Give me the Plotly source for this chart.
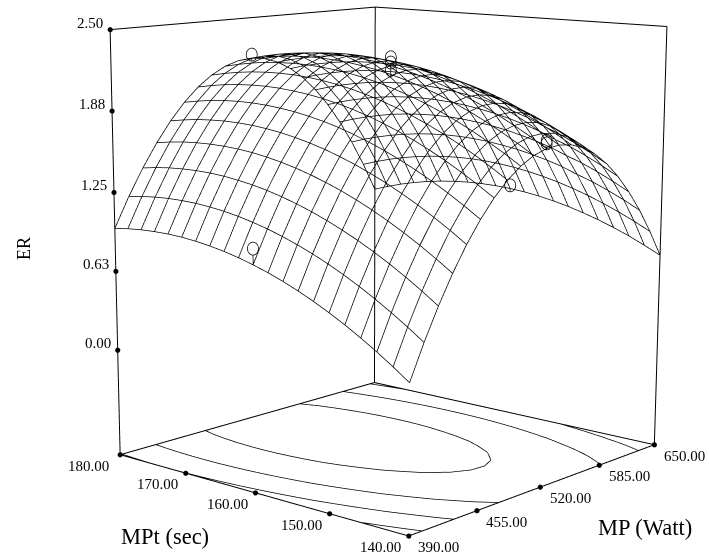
import numpy as np
import plotly.graph_objects as go

# ---- data ----
mp = [390, 403, 416, 429, 442, 455, 468, 481, 494, 507, 520, 533, 546, 559, 572, 585, 598, 611, 624, 637, 650]
mpt = [140, 142, 144, 146, 148, 150, 152, 154, 156, 158, 160, 162, 164, 166, 168, 170, 172, 174, 176, 178, 180]
er_140 = [.253,.510,.742,.950,1.133,1.291,1.425,1.534,1.618,1.678,1.712,1.722,1.708,1.669,1.605,1.516,1.402,1.264,1.102,.914,.702]
er_142 = [.340,.596,.827,1.033,1.215,1.372,1.504,1.612,1.695,1.753,1.787,1.795,1.780,1.739,1.674,1.584,1.469,1.330,1.166,.977,.763]
er_144 = [.422,.676,.906,1.111,1.291,1.447,1.578,1.685,1.766,1.823,1.855,1.863,1.846,1.804,1.737,1.646,1.530,1.390,1.224,1.034,.820]
er_146 = [.498,.751,.980,1.183,1.363,1.517,1.647,1.752,1.832,1.888,1.919,1.925,1.907,1.864,1.796,1.703,1.586,1.444,1.277,1.086,.870]
er_148 = [.569,.821,1.048,1.250,1.428,1.581,1.710,1.814,1.893,1.947,1.977,1.982,1.962,1.913,1.843,1.750,1.631,1.488,1.320,1.133,.915]
er_150 = [.634,.885,1.111,1.312,1.489,1.640,1.768,1.870,1.948,2.001,2.030,2.033,2.012,1.967,1.896,1.801,1.681,1.537,1.368,1.174,.955]
er_152 = [.694,.944,1.168,1.368,1.543,1.694,1.820,1.921,1.998,2.050,2.077,2.079,2.057,2.010,1.938,1.842,1.721,1.575,1.405,1.210,.990]
er_154 = [.749,.997,1.220,1.419,1.593,1.742,1.867,1.967,2.042,2.093,2.119,2.120,2.096,2.048,1.975,1.877,1.755,1.608,1.436,1.240,1.019]
er_156 = [.798,1.045,1.267,1.464,1.637,1.785,1.909,2.007,2.081,2.130,2.155,2.155,2.130,2.081,2.006,1.908,1.784,1.636,1.463,1.265,1.043]
er_158 = [.842,1.087,1.308,1.504,1.676,1.823,1.945,2.042,2.115,2.163,2.186,2.185,2.159,2.108,2.032,1.932,1.807,1.658,1.483,1.285,1.061]
er_160 = [.880,1.125,1.344,1.539,1.709,1.855,1.976,2.072,2.143,2.190,2.212,2.209,2.182,2.130,2.053,1.951,1.825,1.674,1.499,1.299,1.074]
er_162 = [.913,1.156,1.375,1.568,1.737,1.881,2.001,2.096,2.166,2.211,2.232,2.228,2.200,2.146,2.068,1.965,1.838,1.686,1.509,1.308,1.081]
er_164 = [.941,1.183,1.400,1.592,1.760,1.903,2.021,2.115,2.183,2.228,2.247,2.242,2.212,2.157,2.078,1.974,1.845,1.692,1.514,1.311,1.083]
er_166 = [.963,1.204,1.419,1.611,1.777,1.918,2.035,2.128,2.195,2.238,2.256,2.250,2.219,2.163,2.082,1.977,1.847,1.692,1.513,1.309,1.080]
er_168 = [.980,1.219,1.434,1.624,1.789,1.929,2.045,2.136,2.202,2.244,2.261,2.253,2.220,2.163,2.081,1.974,1.843,1.687,1.507,1.301,1.071]
er_170 = [.992,1.230,1.443,1.631,1.795,1.934,2.049,2.138,2.203,2.245,2.259,2.250,2.217,2.158,2.075,1.967,1.835,1.677,1.495,1.289,1.057]
er_172 = [.998,1.234,1.446,1.633,1.796,1.934,2.047,2.135,2.199,2.238,2.253,2.242,2.207,2.147,2.063,1.954,1.820,1.662,1.478,1.270,1.038]
er_174 = [.998,1.234,1.444,1.630,1.791,1.928,2.040,2.127,2.190,2.227,2.240,2.229,2.193,2.131,2.046,1.935,1.800,1.640,1.456,1.247,1.013]
er_176 = [.994,1.228,1.437,1.622,1.782,1.917,2.028,2.113,2.175,2.211,2.223,2.210,2.172,2.110,2.023,1.911,1.775,1.614,1.428,1.218,.983]
er_178 = [.984,1.216,1.424,1.608,1.766,1.900,2.010,2.094,2.154,2.190,2.200,2.186,2.147,2.084,1.995,1.882,1.745,1.582,1.395,1.184,.947]
er_180 = [.968,1.200,1.406,1.588,1.746,1.879,1.987,2.070,2.129,2.163,2.172,2.156,2.116,2.051,1.962,1.848,1.709,1.545,1.357,1.144,.906]
Z = [er_140, er_142, er_144, er_146, er_148, er_150, er_152, er_154, er_156, er_158, er_160,
     er_162, er_164, er_166, er_168, er_170, er_172, er_174, er_176, er_178, er_180]
contour_levels = [0.5, 1.0, 1.5, 2.0]
er_ticks = [0, 0.63, 1.25, 1.88, 2.5]
mpt_ticks = [140, 150, 160, 170, 180]
mp_ticks = [390, 455, 520, 585, 650]
pt_mp = [520, 520, 520, 520, 520, 520, 650, 390]
pt_mpt = [180, 160, 160, 160, 140, 140, 160, 160]
pt_er = [2.2, 2.276, 2.236, 2.18, 1.77, 1.75, 1.1, 1.0]

# ---- view ----
W, H = 709, 558
EYE = np.array([-3.9892, -3.4407, 0.9945])
CEN = np.array([-0.0855, 0.0461, -0.0867])
ASPECT = np.array([1.0, 0.9807, 1.098])
F0 = 2093.4  # focal length in px: plotly's lens is fixed at 45 deg, so the page shows the middle of a wider scene
BH = int(round(F0 * 2 * np.tan(np.pi / 8)))
BW = int(round(BH * W / H))
OX, OY = (BW - W) / 2, (BH - H) / 2

A, B, C, D = mp[0], mp[-1], mpt[0], mpt[-1]
ZMIN, ZMAX = -0.85, 2.5
RNG = np.array([[A - 8, B + 8], [C - 1.5, D + 1.5], [ZMIN - 0.12, ZMAX + 0.12]])
SPAN = np.array([B - A, D - C, ZMAX - ZMIN])
MID = RNG.mean(axis=1)
fw = (CEN - EYE) / np.linalg.norm(CEN - EYE)
rt = np.cross(fw, [0, 0, 1.0]); rt /= np.linalg.norm(rt)
upv = np.cross(rt, fw)


def ring(x, y, z, rx=5.5, ry=6.5, n=28):
    p = (np.array([x, y, z]) - MID) / SPAN * ASPECT
    dep = (p - EYE) @ fw
    t = np.linspace(0, 2 * np.pi, n + 1)
    w = p[None, :] + np.outer(np.cos(t) * rx * dep / F0, rt) + np.outer(np.sin(t) * ry * dep / F0, upv)
    d = w / ASPECT * SPAN + MID
    return d[:, 0].tolist() + [None], d[:, 1].tolist() + [None], d[:, 2].tolist() + [None]


fig = go.Figure()


def line3(xs, ys, zs, w=1.5):
    fig.add_trace(go.Scatter3d(x=xs, y=ys, z=zs, mode="lines", line=dict(color="black", width=w), hoverinfo="skip"))


# wireframe
n_x, n_y = len(mp), len(mpt)
xs, ys, zs = [], [], []
for j in range(n_y):
    xs += mp + [None]; ys += [mpt[j]] * n_x + [None]; zs += Z[j] + [None]
for i in range(n_x):
    xs += [mp[i]] * n_y + [None]; ys += mpt + [None]; zs += [Z[j][i] for j in range(n_y)] + [None]
line3(xs, ys, zs)

# box
xs = [A, B, None, B, B, None, B, A, None, A, A, None, A, A, None, B, B, None, B, B, None, A, B, None, B, B]
ys = [D, D, None, D, C, None, C, C, None, C, D, None, D, D, None, D, D, None, C, C, None, D, D, None, D, C]
zs = [ZMIN, ZMIN, None, ZMIN, ZMIN, None, ZMIN, ZMIN, None, ZMIN, ZMIN, None, ZMIN, ZMAX, None, ZMIN, ZMAX, None,
      ZMIN, ZMAX, None, ZMAX, ZMAX, None, ZMAX, ZMAX]
line3(xs, ys, zs, 2)

xs, ys, zs = [], [], []
for L in contour_levels:
    for j in range(n_y - 1):
        for i in range(n_x - 1):
            c = [(i, j), (i + 1, j), (i + 1, j + 1), (i, j + 1)]
            pts = []
            for k in range(4):
                a, b = c[k], c[(k + 1) % 4]
                za, zb = Z[a[1]][a[0]], Z[b[1]][b[0]]
                if (za - L) * (zb - L) < 0:
                    t = (L - za) / (zb - za)
                    pts.append((mp[a[0]] + t * (mp[b[0]] - mp[a[0]]), mpt[a[1]] + t * (mpt[b[1]] - mpt[a[1]])))
            for k in range(0, len(pts) - 1, 2):
                xs += [pts[k][0], pts[k + 1][0], None]
                ys += [pts[k][1], pts[k + 1][1], None]
                zs += [ZMIN, ZMIN, None]
line3(xs, ys, zs)

# tick dots
tx = [A] * 5 + mp_ticks + [A] * 5
ty = mpt_ticks + [C] * 5 + [D] * 5
tz = [ZMIN] * 10 + er_ticks
fig.add_trace(go.Scatter3d(x=tx, y=ty, z=tz, mode="markers", marker=dict(color="black", size=3), hoverinfo="skip"))

# design points with stems to the surface
xs, ys, zs = [], [], []
for a, b, h in zip(pt_mp, pt_mpt, pt_er):
    s = Z[mpt.index(b)][mp.index(a)]
    xs += [a, a, None]; ys += [b, b, None]; zs += [h - 0.05, s, None]
    r = ring(a, b, h)
    xs += r[0]; ys += r[1]; zs += r[2]
line3(xs, ys, zs, 1.5)

# labels
ann = []
fnt = dict(family="Liberation Serif", size=15, color="black")
for v in er_ticks:
    ann.append(dict(x=A, y=D, z=v, text=f"{v:.2f}", xshift=-20, yshift=7))
for v in mpt_ticks:
    ann.append(dict(x=A, y=v, z=ZMIN, text=f"{v:.2f}", xshift=-32 if v == 180 else -28, yshift=-11))
for v in mp_ticks:
    ann.append(dict(x=v, y=C, z=ZMIN, text=f"{v:.2f}", xshift=30, yshift=-11))
for a in ann:
    a.update(showarrow=False, font=fnt)
tf = dict(family="Liberation Serif", size=22.5, color="black")
ann.append(dict(x=A, y=160, z=ZMIN, text="MPt (sec)", xshift=-90, yshift=-44, showarrow=False, font=tf))
ann.append(dict(x=520, y=C, z=ZMIN, text="MP (Watt)", xshift=105, yshift=-40, showarrow=False, font=tf))
ann.append(dict(x=A, y=D, z=1.0, text="ER", xshift=-90, yshift=-24, showarrow=False, textangle=-90,
                font=dict(family="Liberation Serif", size=18, color="black")))

asp = ASPECT * (RNG[:, 1] - RNG[:, 0]) / SPAN
fig.update_layout(
    width=BW, height=BH, margin=dict(l=0, r=0, t=0, b=0), showlegend=False, paper_bgcolor="white",
    scene=dict(
        xaxis=dict(visible=False, range=RNG[0].tolist()),
        yaxis=dict(visible=False, range=RNG[1].tolist()),
        zaxis=dict(visible=False, range=RNG[2].tolist()),
        aspectmode="manual", aspectratio=dict(x=asp[0], y=asp[1], z=asp[2]), annotations=ann,
        camera=dict(eye=dict(x=EYE[0], y=EYE[1], z=EYE[2]), center=dict(x=CEN[0], y=CEN[1], z=CEN[2]),
                    up=dict(x=0, y=0, z=1))))
ps = (f"var g=document.getElementById('{{plot_id}}');g.style.position='absolute';g.style.left='{-OX}px';"
      f"g.style.top='{-OY}px';document.documentElement.style.overflow='hidden';document.body.style.overflow='hidden';")
fig.write_html("out.html", post_script=ps)
